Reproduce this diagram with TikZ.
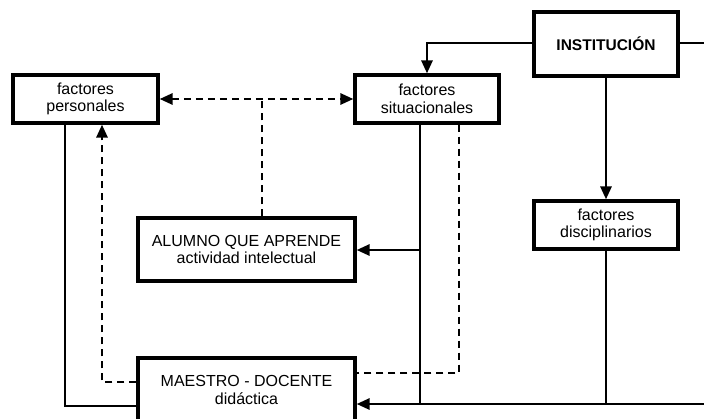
\documentclass[tikz,border=0pt]{standalone}
\usepackage{fontspec}
\setmainfont{Liberation Sans}
\usetikzlibrary{arrows.meta,calc}
\begin{document}
\begin{tikzpicture}[x=1pt,y=-1pt,
  box/.style={draw,line width=3.2pt,fill=white,inner sep=0pt,align=center,
    font=\fontsize{16}{17.5}\selectfont},
  conn/.style={line width=2.8pt},
  dsh/.style={line width=2.8pt,dash pattern=on 7.5pt off 4.5pt},
  tip/.style={-{Triangle[length=13pt,width=11pt]}},
  tips/.style={{Triangle[length=13pt,width=11pt]}-{Triangle[length=13pt,width=11pt]}}
]
\useasboundingbox (0,0) rectangle (704,418);
\clip (0,0) rectangle (704,418);
\fill[white] (0,0) rectangle (704,418);

\node[box,minimum width=145pt,minimum height=48pt] (pers) at (85.5,99) {factores\\personales};
\node[box,minimum width=144pt,minimum height=48pt] (sit) at (427,99) {factores\\situacionales};
\node[box,minimum width=144pt,minimum height=64pt,font=\fontsize{15.5}{17}\selectfont\bfseries] (inst) at (606,44) {INSTITUCIÓN};
\node[box,minimum width=144pt,minimum height=48pt] (disc) at (606,225) {factores\\disciplinarios};
\node[box,minimum width=217pt,minimum height=63pt] (alum) at (246.5,249.5) {ALUMNO QUE APRENDE\\actividad intelectual};
\node[box,minimum width=217pt,minimum height=64pt] (maes) at (246.5,390) {MAESTRO - DOCENTE\\didáctica};

\coordinate (rt) at (714,43);
\coordinate (rb) at (714,404);
\coordinate (sx) at (420,250);

% institucion connections
\draw[conn,tip] (inst.west |- 0,43) -- (427,43) -- (sit.north);
\draw[conn,tip] (inst.east |- rt) -- (rt) -- (rb) -- (maes.east |- rb);
\draw[conn,tip] (inst.south) -- (disc.north);
\draw[conn] (disc.south) -- (disc.south |- rb);

% situacionales
\draw[conn] (sx |- sit.south) -- (sx |- rb);
\draw[conn,tip] (sx) -- (alum.east |- sx);
\draw[dsh] ($(sit.south)+(32,0)$) -- ($(sit.south |- 0,373)+(32,0)$) -- (maes.east |- 0,373);

% personales
\draw[conn] ($(pers.south)+(-20.5,0)$) -- ($(pers.south |- 0,406)+(-20.5,0)$) -- (maes.west |- 0,406);
\draw[dsh,tip] (maes.west |- 0,382) -- (102,382) -- ($(pers.south)+(16.5,0)$);
\draw[dsh,tips] (pers.east) -- (sit.west);
\draw[dsh] ($(alum.north)+(15.5,0)$) -- (262,99);
\end{tikzpicture}
\end{document}
